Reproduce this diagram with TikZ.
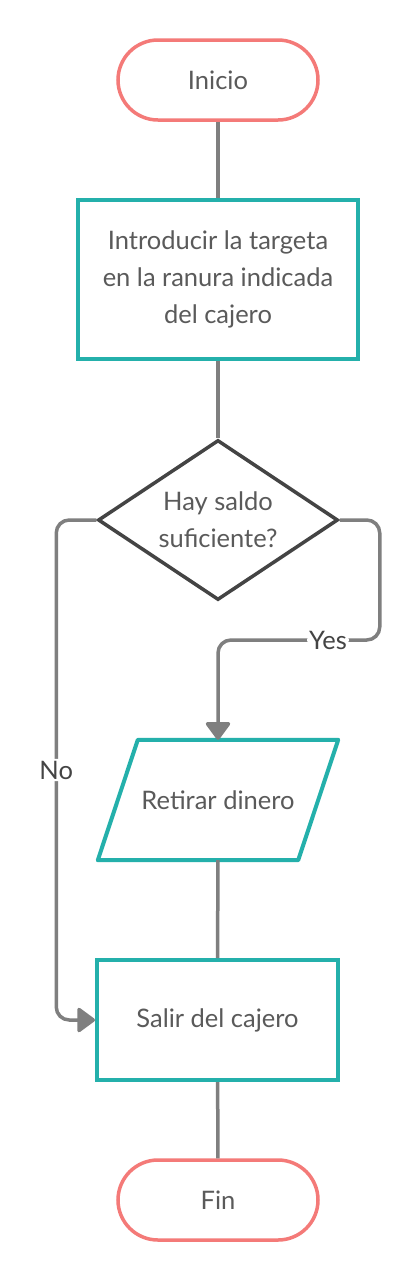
\documentclass[tikz,border=0pt]{standalone}
\usepackage{fontspec}
\setmainfont{Lato}
\usetikzlibrary{shapes.geometric,arrows.meta}
\definecolor{termred}{HTML}{F47A78}
\definecolor{stepteal}{HTML}{24B0AB}
\definecolor{linegray}{HTML}{7F7F7F}
\definecolor{decgray}{HTML}{444444}
\definecolor{textgray}{HTML}{5A5A5A}
\tikzset{
  terminal/.style={draw=termred, line width=3.5pt, rounded corners=40pt,
    minimum width=200pt, minimum height=80pt, text=textgray},
  stepbox/.style={draw=stepteal, line width=4pt, minimum width=280pt,
    minimum height=159pt, align=center, text=textgray},
  decision/.style={diamond, draw=decgray, line width=3.5pt, aspect=1.5,
    minimum width=240pt, minimum height=160pt, inner sep=0pt, align=center, text=textgray},
  iobox/.style={minimum width=240pt, minimum height=120pt, text=textgray},
  ioframe/.style={draw=stepteal, line width=4pt, line join=round},
  conn/.style={draw=linegray, line width=3.5pt, rounded corners=13pt},
  tip/.style={-{Triangle[length=19pt,width=27pt,round]}},
  flowlabel/.style={fill=white, text=decgray, inner sep=2pt}
}
\begin{document}
\begin{tikzpicture}[x=1pt, y=-1pt, font=\fontsize{25.5}{37}\selectfont]
    \useasboundingbox[fill=white] (0,0) rectangle (418,1280);

    % Nodes
    \node[terminal] (start) at (218,80) {Inicio};
    \node[stepbox] (card) at (218,279.5) {Introducir la targeta\\en la ranura indicada\\del cajero};
    \node[decision] (check) at (218,520) {Hay saldo\\suficiente?};
    \node[iobox] (withdraw) at (218,800) {Retirar dinero};
    \node[stepbox, minimum width=241pt, minimum height=120pt] (leave) at (217.5,1020) {Salir del cajero};
    \node[terminal] (finish) at (218,1200) {Fin};

    % Slanted input/output frame
    \draw[ioframe] ([xshift=40pt]withdraw.north west) -- (withdraw.north east)
        -- ([xshift=-40pt]withdraw.south east) -- (withdraw.south west) -- cycle;

    % Straight connections
    \draw[conn] (start) -- (card);
    \draw[conn] (card) -- (check);
    \draw[conn] (withdraw) -- (leave);
    \draw[conn] (leave) -- (finish);

    % No branch
    \draw[conn, tip] (check.west) -- ++(-40,0) |- node[pos=0.25, flowlabel] {No} (leave.west);
    % Yes branch
    \draw[conn, tip] (check.east) -- ++(40,0) -- ++(0,120) -| node[pos=0.16, flowlabel] {Yes} (withdraw.north);
\end{tikzpicture}
\end{document}
